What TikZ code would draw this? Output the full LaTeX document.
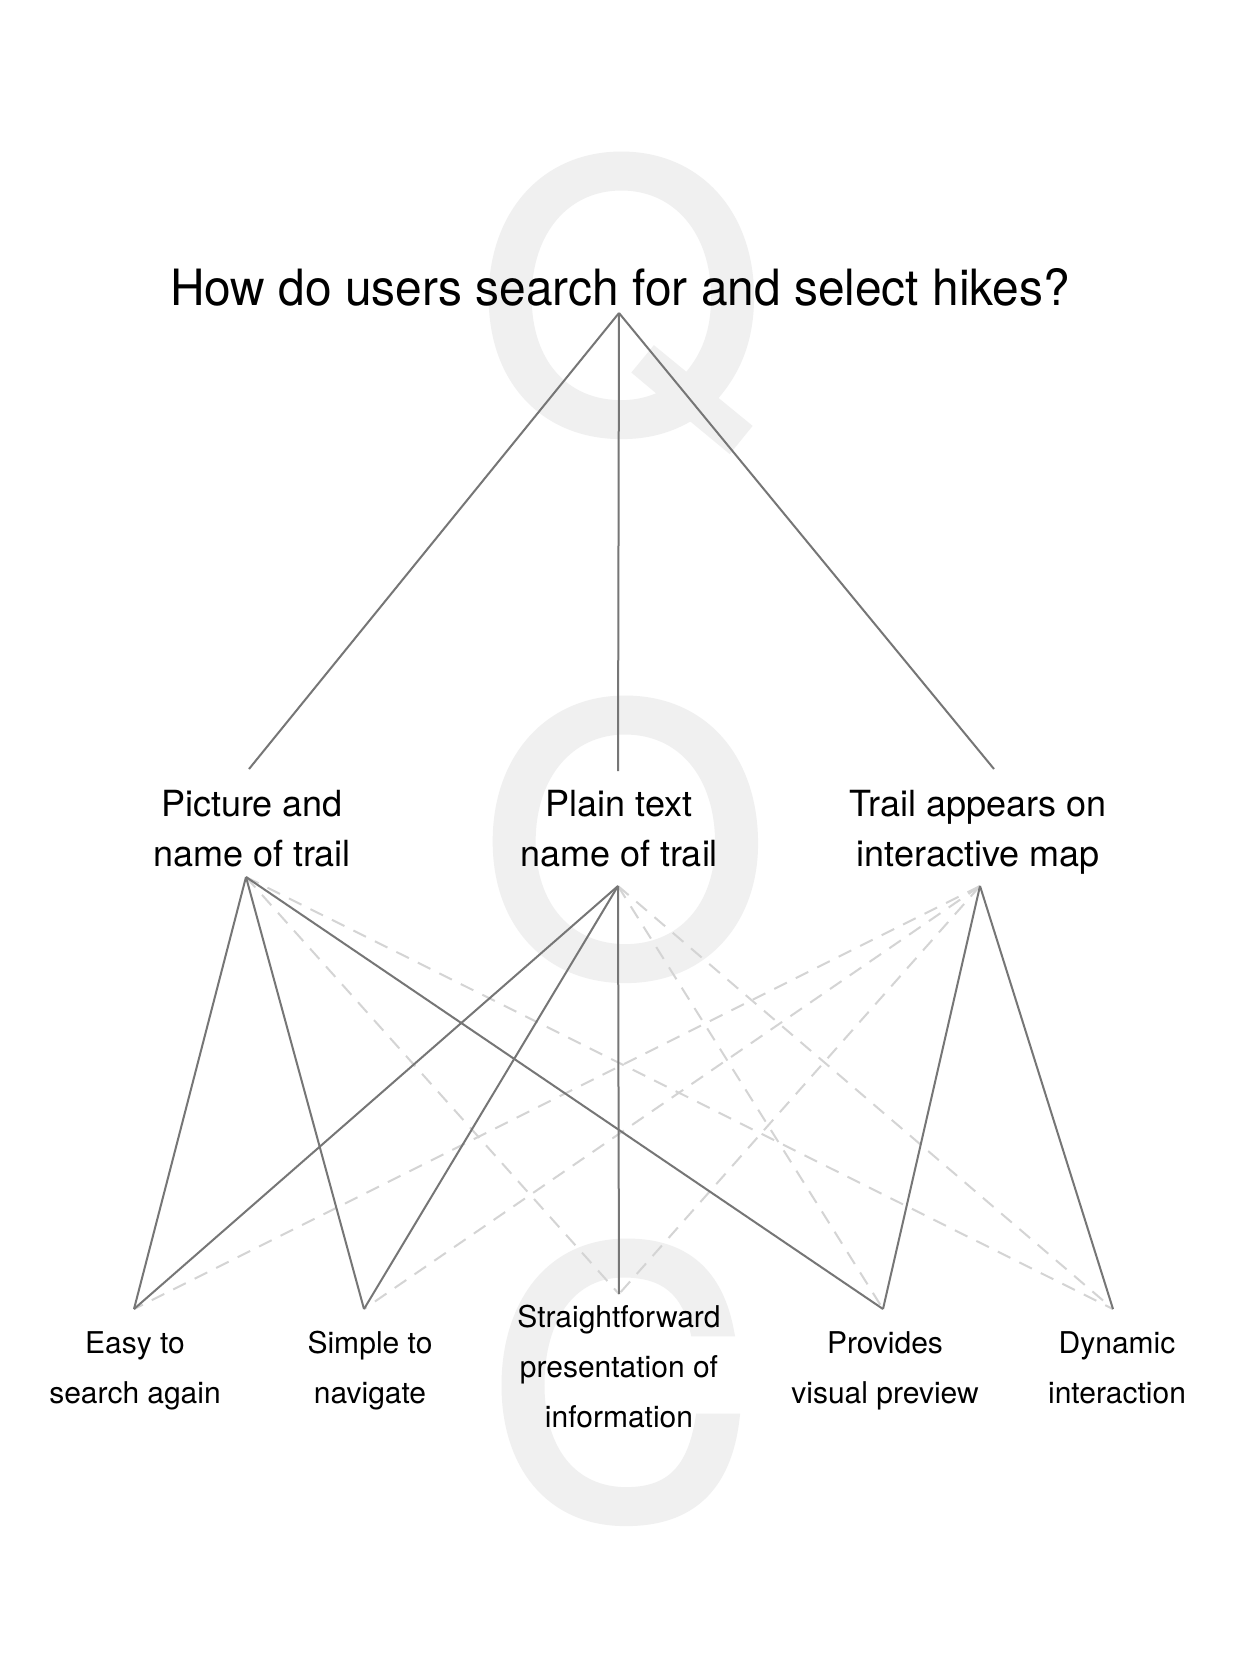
\documentclass[tikz,border=0pt]{standalone}
\usepackage{fontspec}
\setmainfont{TeX Gyre Heros}
\newfontfamily\wmfont[FakeBold=2.5]{TeX Gyre Heros}
\definecolor{wmgray}{RGB}{240,240,240}
\definecolor{linkgray}{RGB}{118,118,118}
\definecolor{weakgray}{RGB}{212,212,212}
\begin{document}
\begin{tikzpicture}[x=1pt,y=-1pt,
  wm/.style={text=wmgray, inner sep=0pt, anchor=base, font=\wmfont\fontsize{364}{364}\selectfont},
  title/.style={inner sep=0pt, anchor=base, font=\fontsize{50}{60}\selectfont},
  mid/.style={inner sep=0pt, align=center, font=\fontsize{36}{50}\selectfont},
  leaf/.style={inner sep=0pt, align=center, font=\fontsize{30}{50}\selectfont},
  link/.style={draw=linkgray, line width=2pt},
  weak/.style={draw=weakgray, line width=2pt, dash pattern=on 14pt off 10pt}]
\useasboundingbox[fill=white] (0,0) rectangle (1240,1654);
% watermark letters
\node[wm] (wq) at (621,428) {Q};
\node[wm] (wo) at (625,972) {O};
\node[wm] (wc) at (620,1515) {C};
% texts
\node[title] (q) at (620,305) {\scalebox{0.957}[1]{How do users search for and select hikes?}};
\node[mid] (o1) at (252,831.7) {\strut Picture and\\\strut name of trail};
\node[mid] (o2) at (619,831.7) {\strut Plain text\\\strut name of trail};
\node[mid] (o3) at (978,831.7) {\strut Trail appears on\\\strut interactive map};
\node[leaf] (c1) at (135,1368.3) {\strut Easy to\\\strut search again};
\node[leaf] (c2) at (370,1368.3) {\strut Simple to\\\strut navigate};
\node[leaf] (c3) at (619,1367) {\strut Straightforward\\\strut presentation of\\\strut information};
\node[leaf] (c4) at (885,1368.3) {\strut Provides\\\strut visual preview};
\node[leaf] (c5) at (1117,1368.3) {\strut Dynamic\\\strut interaction};
% connector ends
\coordinate (qb) at (619,313);
\coordinate (o1t) at (249,769);
\coordinate (o2t) at (618,771);
\coordinate (o3t) at (994,769);
\coordinate (o1b) at (246,877);
\coordinate (o2b) at (618,886);
\coordinate (o3b) at (980,886);
\coordinate (c1t) at (134,1309);
\coordinate (c2t) at (364,1309);
\coordinate (c3t) at (619,1294);
\coordinate (c4t) at (883,1309);
\coordinate (c5t) at (1113,1309);
% weak (dashed) links
\draw[weak] (o1b) -- (c3t);
\draw[weak] (o1b) -- (c5t);
\draw[weak] (o2b) -- (c4t);
\draw[weak] (o2b) -- (c5t);
\draw[weak] (o3b) -- (c1t);
\draw[weak] (o3b) -- (c2t);
\draw[weak] (o3b) -- (c3t);
% strong (solid) links
\draw[link] (qb) -- (o1t);
\draw[link] (qb) -- (o2t);
\draw[link] (qb) -- (o3t);
\draw[link] (o1b) -- (c1t);
\draw[link] (o1b) -- (c2t);
\draw[link] (o1b) -- (c4t);
\draw[link] (o2b) -- (c1t);
\draw[link] (o2b) -- (c2t);
\draw[link] (o2b) -- (c3t);
\draw[link] (o3b) -- (c4t);
\draw[link] (o3b) -- (c5t);
\end{tikzpicture}
\end{document}
